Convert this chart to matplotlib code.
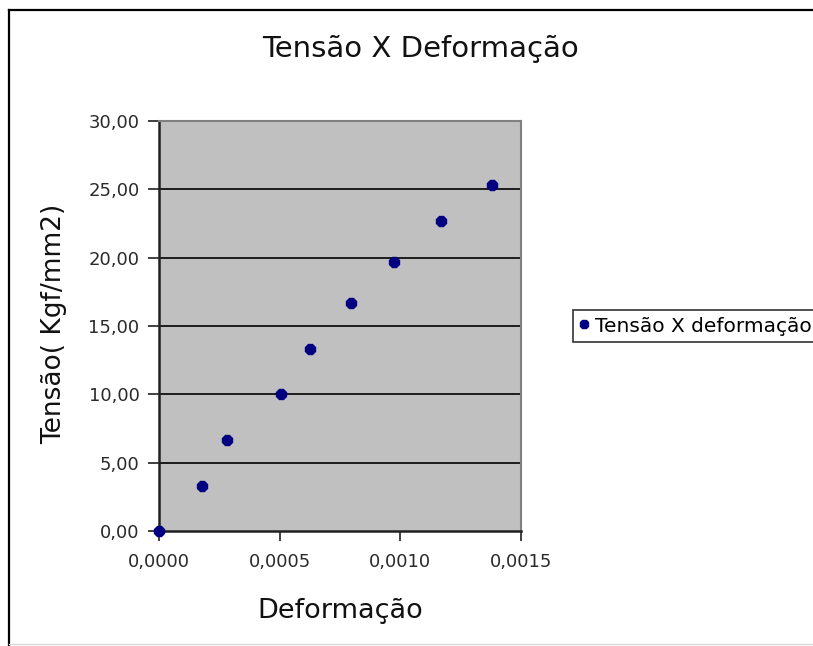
import matplotlib
matplotlib.use("Agg")
import matplotlib.pyplot as plt
from matplotlib.lines import Line2D
from matplotlib.ticker import FuncFormatter, MultipleLocator

# Strain (deformação) and stress (tensão, Kgf/mm2) readings
deformacao = [0.0, 0.000177, 0.000281, 0.000506, 0.000626, 0.000796, 0.000975, 0.001167, 0.001379]
tensao = [0.0, 3.30, 6.66, 10.00, 13.30, 16.70, 19.70, 22.70, 25.30]

titulo = "Tensão X Deformação"
rotulo_x = "Deformação"
rotulo_y = "Tensão( Kgf/mm2)"
serie = "Tensão X deformação"

plt.rcParams["font.family"] = ["DejaVu Sans"]

W, H = 813, 646
fig = plt.figure(figsize=(W / 100, H / 100), dpi=100)
fig.patch.set_facecolor("white")

def fx(px):
    return px / W

def fy(py):
    return 1 - py / H

# chart frame: black left/top edges, light bottom edge
fig.add_artist(Line2D([fx(9), fx(9)], [fy(10), fy(646)], color="black", lw=1.6))
fig.add_artist(Line2D([fx(9), fx(813)], [fy(10), fy(10)], color="black", lw=1.6))
fig.add_artist(Line2D([fx(9), fx(813)], [fy(644), fy(644)], color="#d8d8d8", lw=1.0))

left, right, top, bottom = 159, 521, 121, 531
ax = fig.add_axes([fx(left), fy(bottom), fx(right - left), fy(top) - fy(bottom)])
ax.set_facecolor("#c0c0c0")

ax.set_xlim(0, 0.0015)
ax.set_ylim(0, 30)
ax.xaxis.set_major_locator(MultipleLocator(0.0005))
ax.yaxis.set_major_locator(MultipleLocator(5))
ax.xaxis.set_major_formatter(FuncFormatter(lambda v, p: f"{v:.4f}".replace(".", ",")))
ax.yaxis.set_major_formatter(FuncFormatter(lambda v, p: f"{v:.2f}".replace(".", ",")))

for yv in range(5, 30, 5):
    ax.axhline(yv, color="black", lw=1.2, zorder=1)

for s in ["left", "bottom"]:
    ax.spines[s].set_color("#202020")
    ax.spines[s].set_linewidth(1.8)
for s in ["right", "top"]:
    ax.spines[s].set_color("#808080")
    ax.spines[s].set_linewidth(1.5)

ax.tick_params(axis="both", direction="out", width=1.2, color="#202020",
               labelsize=13, labelcolor="#2a2a2a")
ax.tick_params(axis="y", length=8, pad=6)
ax.tick_params(axis="x", length=7, pad=9)

ax.plot(deformacao, tensao, linestyle="none", marker="8", markersize=8.5,
        color="#000080", markeredgecolor="#000080", clip_on=False, zorder=5, label=serie)

fig.text(fx(420), fy(57), titulo, ha="center", va="baseline", fontsize=21, color="#111111")
fig.text(fx(340), fy(618), rotulo_x, ha="center", va="baseline", fontsize=19.5, color="#111111")
fig.text(fx(54), fy(324), rotulo_y, ha="center", va="center", rotation=90, fontsize=19, color="#111111")

leg = ax.legend(loc="center left", bbox_to_anchor=(fx(573), fy(326)), bbox_transform=fig.transFigure,
                frameon=True, fancybox=False, fontsize=14.5, markerscale=0.7,
                handlelength=0.5, handletextpad=0.3, borderpad=0.3, borderaxespad=0)
leg.get_frame().set_edgecolor("black")
leg.get_frame().set_linewidth(1.2)

fig.savefig("out.png", dpi=100, facecolor="white")
